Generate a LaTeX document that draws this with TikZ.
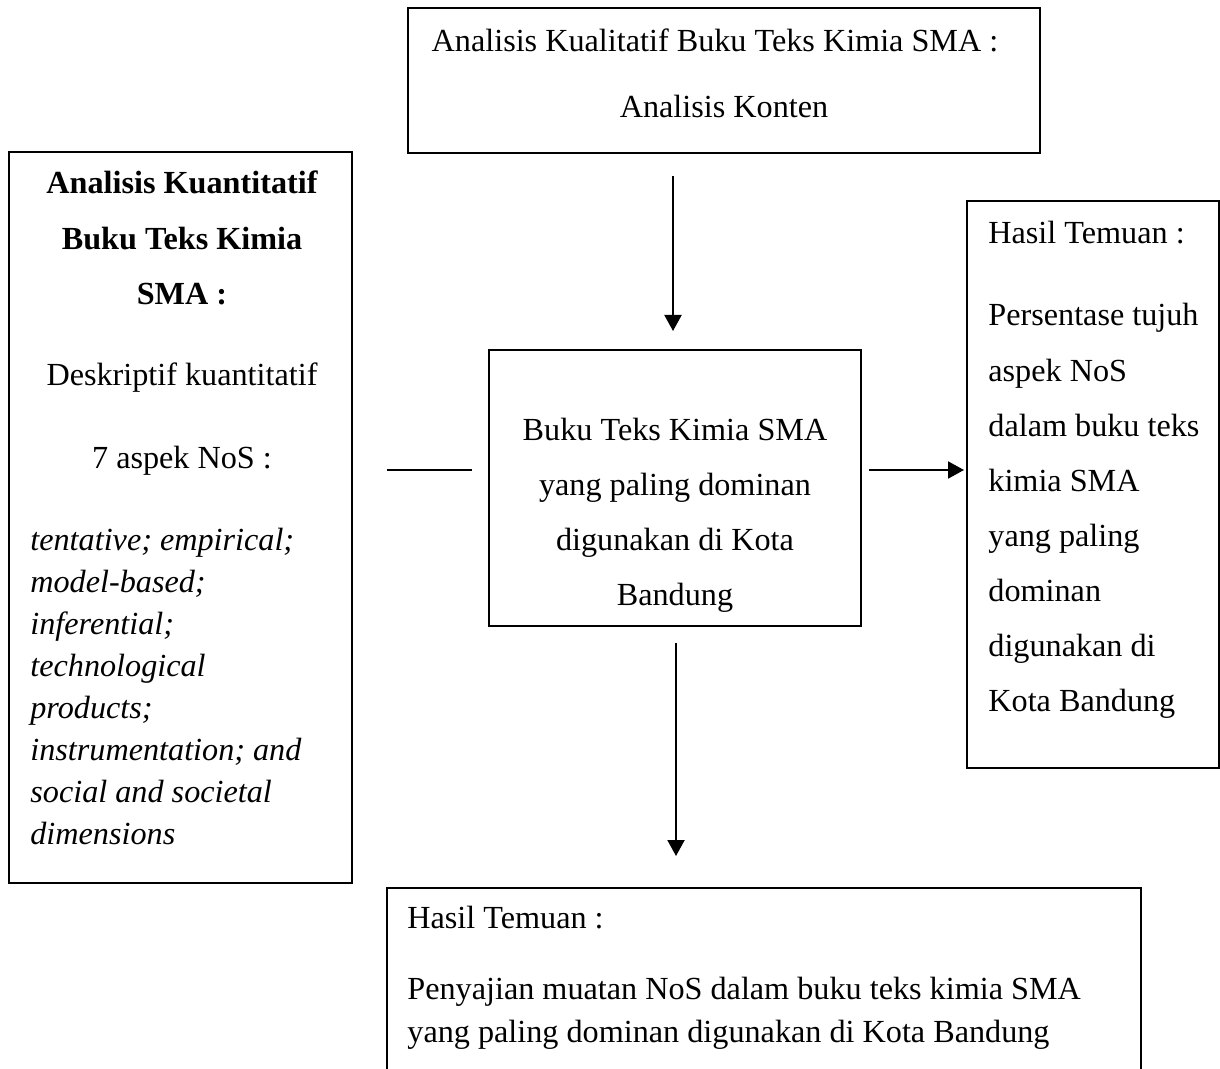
\documentclass[tikz,border=0pt]{standalone}
\usepackage{fontspec}
\setmainfont{Liberation Serif}
\usetikzlibrary{arrows.meta}
\tikzset{
  kotak/.style={draw, line width=1pt, rectangle, inner sep=0pt},
  teks/.style={inner sep=0pt, font=\fontsize{16.1pt}{19pt}\selectfont},
  panah/.style={line width=1pt, -{Triangle[length=8pt,width=8.5pt]}},
  garis/.style={line width=1pt}
}
\begin{document}
\begin{tikzpicture}[x=0.5pt, y=-0.5pt]
  \useasboundingbox (0,0) rectangle (1220,1069);
  \clip (0,0) rectangle (1220,1069);
  \fill[white] (0,0) rectangle (1220,1069);
  % kotak-kotak
  \node[kotak, minimum width=316pt, minimum height=72.5pt] (kual) at (724,80.5) {};
  \node[kotak, minimum width=171.5pt, minimum height=365.5pt] (kuan) at (180.5,517.5) {};
  \node[kotak, minimum width=186pt, minimum height=138pt] (buku) at (675,488) {};
  \node[kotak, minimum width=126pt, minimum height=283.5pt] (hasilA) at (1093,484.5) {};
  \node[kotak, minimum width=377pt, minimum height=100pt] (hasilB) at (764,988) {};
  \coordinate (lvl) at (0,470);
  % teks kotak atas
  \node[teks, anchor=base] (kual-1) at (715,52) {Analisis Kualitatif Buku Teks Kimia SMA :};
  \node[teks, anchor=base] (kual-2) at (724,118) {Analisis Konten};
  % teks kotak kiri
  \foreach \t [count=\i] in {Analisis Kuantitatif, Buku Teks Kimia, SMA :}
    \node[teks, anchor=base, font=\fontsize{16.1pt}{19pt}\selectfont\bfseries] (kuan-b\i) at (182,{194+55.5*(\i-1)}) {\t};
  \node[teks, anchor=base] (kuan-d) at (182,386) {Deskriptif kuantitatif};
  \node[teks, anchor=base] (kuan-n) at (182,468) {7 aspek NoS :};
  \foreach \t [count=\i] in {tentative; empirical;, model-based;, inferential;, technological, products;, instrumentation; and, social and societal, dimensions}
    \node[teks, anchor=base west, font=\fontsize{16.1pt}{19pt}\selectfont\itshape] (kuan-i\i) at (30,{550+42.1*(\i-1)}) {\t};
  % teks kotak tengah
  \foreach \t [count=\i] in {Buku Teks Kimia SMA, yang paling dominan, digunakan di Kota, Bandung}
    \node[teks, anchor=base] (buku-\i) at (675,{440+55*(\i-1)}) {\t};
  % teks kotak kanan
  \node[teks, anchor=base west] (hasilA-0) at (988,244) {Hasil Temuan :};
  \foreach \t [count=\i] in {Persentase tujuh, aspek NoS, dalam buku teks, kimia SMA, yang paling, dominan, digunakan di, Kota Bandung}
    \node[teks, anchor=base west] (hasilA-\i) at (988,{326+55.1*(\i-1)}) {\t};
  % teks kotak bawah
  \node[teks, anchor=base west] (hasilB-0) at (407,928) {Hasil Temuan :};
  \node[teks, anchor=base west] (hasilB-1) at (407,999) {Penyajian muatan NoS dalam buku teks kimia SMA};
  \node[teks, anchor=base west] (hasilB-2) at (407,1042) {yang paling dominan digunakan di Kota Bandung};
  % penghubung
  \draw[panah, shorten <=11pt, shorten >=9pt] ([xshift=-1pt]buku.north |- kual.south) -- ([xshift=-1pt]buku.north);
  \draw[garis, shorten <=17pt, shorten >=8pt] (kuan.east |- lvl) -- (buku.west |- lvl);
  \draw[panah, shorten <=3.5pt, shorten >=1pt] (buku.east |- lvl) -- (hasilA.west |- lvl);
  \draw[panah, shorten <=8pt, shorten >=15.5pt] ([xshift=0.5pt]buku.south) -- ([xshift=0.5pt]buku.south |- hasilB.north);
\end{tikzpicture}
\end{document}
